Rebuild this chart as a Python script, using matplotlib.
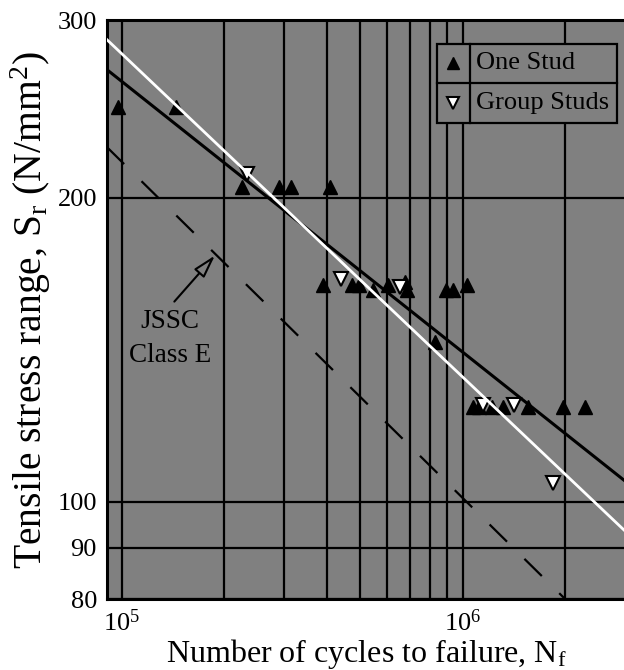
import matplotlib
matplotlib.use('Agg')
import matplotlib.pyplot as plt
from matplotlib.ticker import FixedLocator, FixedFormatter, NullFormatter, NullLocator
from matplotlib.patches import Rectangle

plt.rcParams['font.family'] = ['Liberation Serif', 'DejaVu Serif']
plt.rcParams['mathtext.fontset'] = 'custom'
plt.rcParams['mathtext.rm'] = 'Liberation Serif'
plt.rcParams['mathtext.it'] = 'Liberation Serif:italic'
plt.rcParams['lines.scale_dashes'] = False

# ---------------- data ----------------
one_stud_N = [9.77e4, 1.44e5, 2.25e5, 2.89e5, 3.14e5, 4.08e5,
              3.88e5, 4.73e5, 4.98e5, 5.47e5, 6.05e5, 6.77e5, 6.85e5,
              8.29e5, 8.93e5, 9.35e5, 1.027e6,
              1.070e6, 1.119e6, 1.216e6, 1.315e6, 1.557e6, 1.972e6, 2.284e6]
one_stud_S = [246, 246, 205, 205, 205, 205,
              164, 164, 164, 162, 164, 165, 162,
              144, 162, 162, 164,
              124, 124, 124, 124, 124, 124, 124]

group_N = [2.33e5, 4.40e5, 6.55e5, 1.149e6, 1.414e6, 1.844e6]
group_S = [211, 166, 163, 124.5, 124.5, 104.3]

fit_one_N = [9.04e4, 3.0e6]      # black regression line
fit_one_S = [268, 104.7]
fit_group_N = [9.04e4, 3.0e6]    # white regression line
fit_group_S = [287, 93.4]
jssc_N = [9.04e4, 2.0e6]         # JSSC Class E design line
jssc_S = [224.6, 80]

x_major = [1e5, 1e6]
x_major_labels = ['$10^5$', '$10^6$']
x_minor = [2e5, 3e5, 4e5, 5e5, 6e5, 7e5, 8e5, 9e5, 2e6]
y_ticks = [80, 90, 100, 200, 300]
y_tick_labels = ['80', '90', '100', '200', '300']

legend_labels = ['One Stud', 'Group Studs']

# ---------------- figure ----------------
BG = '#808080'
fig = plt.figure(figsize=(6.24, 6.70), dpi=100)
ax = fig.add_axes([0.1710, 0.1055, 0.8314, 0.8646])
ax.set_facecolor(BG)
ax.set_xscale('log')
ax.set_yscale('log')
ax.set_xlim(9.04e4, 3.0e6)
ax.set_ylim(80, 300)

ax.xaxis.set_major_locator(FixedLocator(x_major))
ax.xaxis.set_major_formatter(FixedFormatter(x_major_labels))
ax.xaxis.set_minor_locator(FixedLocator(x_minor))
ax.xaxis.set_minor_formatter(NullFormatter())
ax.yaxis.set_major_locator(FixedLocator(y_ticks))
ax.yaxis.set_major_formatter(FixedFormatter(y_tick_labels))
ax.yaxis.set_minor_locator(NullLocator())

ax.set_axisbelow(True)
ax.grid(True, which='both', axis='x', color='black', lw=1.6)
ax.grid(True, which='major', axis='y', color='black', lw=1.6)
ax.tick_params(which='both', length=0, labelsize=19, pad=7)
for s in ax.spines.values():
    s.set_linewidth(2.2)

# data markers
ax.plot(one_stud_N, one_stud_S, ls='none', marker='^', ms=10.5,
        mfc='black', mec='black', mew=1, zorder=3)
ax.plot(group_N, group_S, ls='none', marker='v', ms=9.5,
        mfc='white', mec='black', mew=1.5, zorder=3.5)

# lines
ax.plot(fit_one_N, fit_one_S, color='black', lw=2.2, zorder=4)
ax.plot(fit_group_N, fit_group_S, color='white', lw=2.0, zorder=4.5)
ax.plot(jssc_N, jssc_S, color='black', lw=1.6, dashes=(17.6, 17.6), zorder=4)

# annotation
ax.annotate('', xy=(1.877e5, 175.3), xytext=(1.427e5, 157.8),
            arrowprops=dict(arrowstyle='-|>,head_length=0.7,head_width=0.2',
                            mutation_scale=20, fc=BG, ec='black', lw=1.5,
                            shrinkA=0, shrinkB=0), zorder=5)
ax.text(1.385e5, 145.0, 'JSSC\nClass E', ha='center', va='center',
        multialignment='center', fontsize=19.5, linespacing=1.5, zorder=5)

# custom boxed legend
lx0, lx1, ldiv = 0.6372, 0.9842, 0.6997
ly0, ly1, lmid = 0.8227, 0.9586, 0.8918
ax.add_patch(Rectangle((lx0, ly0), lx1 - lx0, ly1 - ly0, transform=ax.transAxes,
                       fc=BG, ec='black', lw=1.6, zorder=10))
ax.plot([ldiv, ldiv], [ly0, ly1], transform=ax.transAxes, color='black', lw=1.6, zorder=11)
ax.plot([lx0, lx1], [lmid, lmid], transform=ax.transAxes, color='black', lw=1.6, zorder=11)
mx = (lx0 + ldiv) / 2
r1 = (ly1 + lmid) / 2
r2 = (lmid + ly0) / 2
ax.plot([mx], [r1], transform=ax.transAxes, marker='^', ms=9, mfc='black', mec='black', zorder=12)
ax.plot([mx], [r2], transform=ax.transAxes, marker='v', ms=8.5, mfc='white', mec='black', mew=1.5, zorder=12)
ax.text(ldiv + 0.013, r1, legend_labels[0], transform=ax.transAxes, va='center', ha='left', fontsize=19, zorder=12)
ax.text(ldiv + 0.013, r2, legend_labels[1], transform=ax.transAxes, va='center', ha='left', fontsize=19, zorder=12)

ax.set_xlabel('Number of cycles to failure, N$_\\mathrm{f}$', fontsize=23, labelpad=1)
ax.set_ylabel('Tensile stress range, S$_\\mathrm{r}$ (N/mm$^2$)', fontsize=28.5, labelpad=3)

fig.savefig('out.png', dpi=100)
